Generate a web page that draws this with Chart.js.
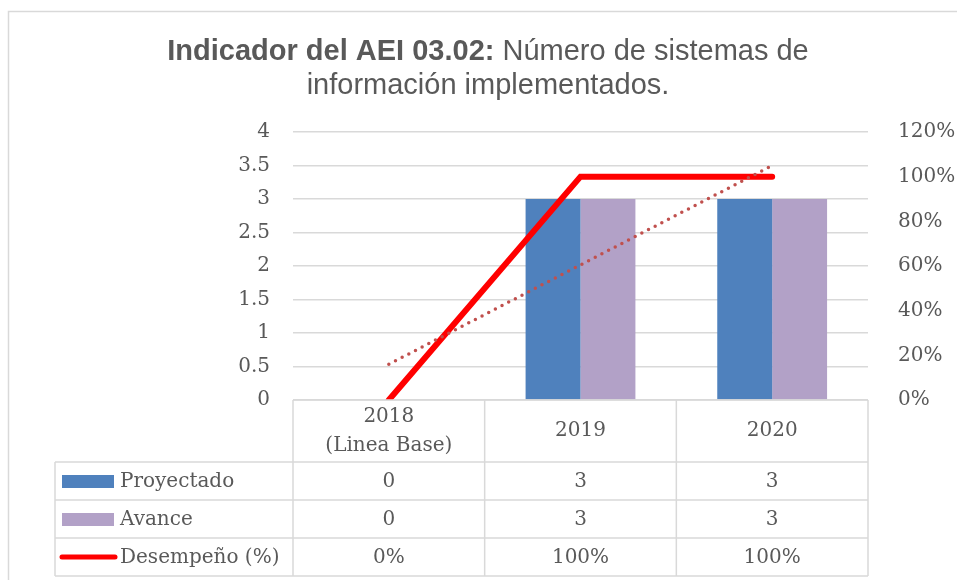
<!DOCTYPE html>
<html lang="es">
<head>
<meta charset="UTF-8">
<title>Indicador del AEI 03.02</title>
<script src="https://cdn.jsdelivr.net/npm/chart.js"></script>
<style>
  body { margin: 0; background: #fff; }
  canvas { display: block; }
</style>
</head>
<body>
<canvas id="chart" width="957" height="580"></canvas>
<script>
// data
const categories = [['2018', '(Linea Base)'], ['2019'], ['2020']];
const proyectado = [0, 3, 3];
const avance = [0, 3, 3];
const desempeno = [0, 100, 100];      // percent
const tendencia = [16, 60.5, 105];    // dotted trend line, percent
const leftTicks = [0, 0.5, 1, 1.5, 2, 2.5, 3, 3.5, 4];
const rightTicks = [0, 20, 40, 60, 80, 100, 120];

const TXT = '#595959';
const GRID = '#d9d9d9';
const SERIF = '"DejaVu Serif", serif';

// title with a bold lead-in, drawn centred on two lines
const titlePlugin = {
  id: 'mixedTitle',
  afterDraw(chart) {
    const ctx = chart.ctx;
    ctx.save();
    // outer frame
    ctx.strokeStyle = GRID;
    ctx.lineWidth = 1.5;
    ctx.strokeRect(8.5, 11.5, 960, 580);

    ctx.fillStyle = TXT;
    ctx.textBaseline = 'alphabetic';
    const bold = 'bold 29px "Liberation Sans", Arial, sans-serif';
    const reg = '29px "Liberation Sans", Arial, sans-serif';
    const a = 'Indicador del AEI 03.02:';
    const b = ' Número de sistemas de';
    ctx.font = bold; const wa = ctx.measureText(a).width;
    ctx.font = reg; const wb = ctx.measureText(b).width;
    let x = 488 - (wa + wb) / 2;
    ctx.font = bold; ctx.textAlign = 'left'; ctx.fillText(a, x, 60);
    ctx.font = reg; ctx.fillText(b, x + wa, 60);
    ctx.textAlign = 'center';
    ctx.fillText('información implementados.', 488, 94);
    ctx.restore();
  }
};

// data table under the plot, columns follow the x scale
const tablePlugin = {
  id: 'dataTable',
  afterDraw(chart) {
    const ctx = chart.ctx;
    const area = chart.chartArea;
    const xs = chart.scales.x;
    const n = categories.length;
    const colW = (area.right - area.left) / n;
    const top = area.bottom;
    const headH = 62, rowH = 38;
    const tableLeft = 55;
    const rows = [
      { label: 'Proyectado', vals: proyectado.map(String), key: 'box', color: '#4F81BD' },
      { label: 'Avance', vals: avance.map(String), key: 'box', color: '#B2A1C7' },
      { label: 'Desempeño (%)', vals: desempeno.map(v => v + '%'), key: 'line', color: '#FF0000' }
    ];
    const bottom = top + headH + rows.length * rowH;
    ctx.save();
    ctx.strokeStyle = GRID;
    ctx.lineWidth = 1.5;
    ctx.beginPath();
    for (let i = 0; i <= n; i++) {
      const x = area.left + i * colW;
      ctx.moveTo(x, top); ctx.lineTo(x, bottom);
    }
    ctx.moveTo(area.left, top); ctx.lineTo(area.right, top);
    for (let r = 0; r <= rows.length; r++) {
      const y = top + headH + r * rowH;
      ctx.moveTo(tableLeft, y); ctx.lineTo(area.right, y);
    }
    ctx.moveTo(tableLeft, top + headH); ctx.lineTo(tableLeft, bottom);
    ctx.stroke();

    ctx.fillStyle = TXT;
    ctx.font = '20px ' + SERIF;
    ctx.textAlign = 'center';
    ctx.textBaseline = 'middle';
    categories.forEach((lines, i) => {
      const cx = xs.getPixelForValue(i);
      const mid = top + headH / 2;
      const lh = 29;
      lines.forEach((t, k) => {
        ctx.fillText(t, cx, mid + (k - (lines.length - 1) / 2) * lh);
      });
    });
    rows.forEach((row, r) => {
      const cy = top + headH + r * rowH + rowH / 2;
      row.vals.forEach((v, i) => {
        ctx.fillStyle = TXT;
        ctx.textAlign = 'center';
        ctx.fillText(v, xs.getPixelForValue(i), cy + 1);
      });
      if (row.key === 'box') {
        ctx.fillStyle = row.color;
        ctx.fillRect(62, cy - 6, 52, 13);
      } else {
        ctx.strokeStyle = row.color;
        ctx.lineWidth = 5;
        ctx.lineCap = 'round';
        ctx.beginPath();
        ctx.moveTo(62, cy); ctx.lineTo(115, cy);
        ctx.stroke();
      }
      ctx.fillStyle = TXT;
      ctx.textAlign = 'left';
      ctx.fillText(row.label, 120, cy + 1);
    });
    ctx.restore();
  }
};

new Chart(document.getElementById('chart'), {
  data: {
    labels: categories.map(c => c.join(' ')),
    datasets: [
      {
        type: 'bar', label: 'Proyectado', data: proyectado, yAxisID: 'y',
        backgroundColor: '#4F81BD', order: 3,
        categoryPercentage: 0.573, barPercentage: 1
      },
      {
        type: 'bar', label: 'Avance', data: avance, yAxisID: 'y',
        backgroundColor: '#B2A1C7', order: 3,
        categoryPercentage: 0.573, barPercentage: 1
      },
      {
        type: 'line', label: 'Desempeño (%)', data: desempeno, yAxisID: 'y1',
        borderColor: '#FF0000', borderWidth: 6, pointRadius: 0,
        borderCapStyle: 'round', borderJoinStyle: 'miter', tension: 0, order: 2
      },
      {
        type: 'line', label: 'Tendencia', data: tendencia, yAxisID: 'y1',
        borderColor: '#C0504D', borderWidth: 3.5, pointRadius: 0,
        borderDash: [0, 7.5], borderCapStyle: 'round', tension: 0, order: 1
      }
    ]
  },
  options: {
    responsive: false,
    animation: false,
    layout: { padding: { top: 132, bottom: 180, left: 0, right: 0 } },
    plugins: { legend: { display: false }, tooltip: { enabled: false } },
    scales: {
      x: { display: false },
      y: {
        position: 'left', min: 0, max: 4,
        afterBuildTicks: s => { s.ticks = leftTicks.map(v => ({ value: v })); },
        afterFit: s => { s.width = 293; },
        grid: { color: GRID, lineWidth: 1.5, drawTicks: false },
        border: { display: false },
        ticks: { color: TXT, padding: 23, font: { family: SERIF, size: 20 }, callback: v => String(v) }
      },
      y1: {
        position: 'right', min: 0, max: 120,
        afterBuildTicks: s => { s.ticks = rightTicks.map(v => ({ value: v })); },
        afterFit: s => { s.width = 89; },
        grid: { display: false },
        border: { display: false },
        ticks: { color: TXT, padding: 22, font: { family: SERIF, size: 20 }, callback: v => v + '%' }
      }
    }
  },
  plugins: [titlePlugin, tablePlugin]
});
</script>
</body>
</html>
